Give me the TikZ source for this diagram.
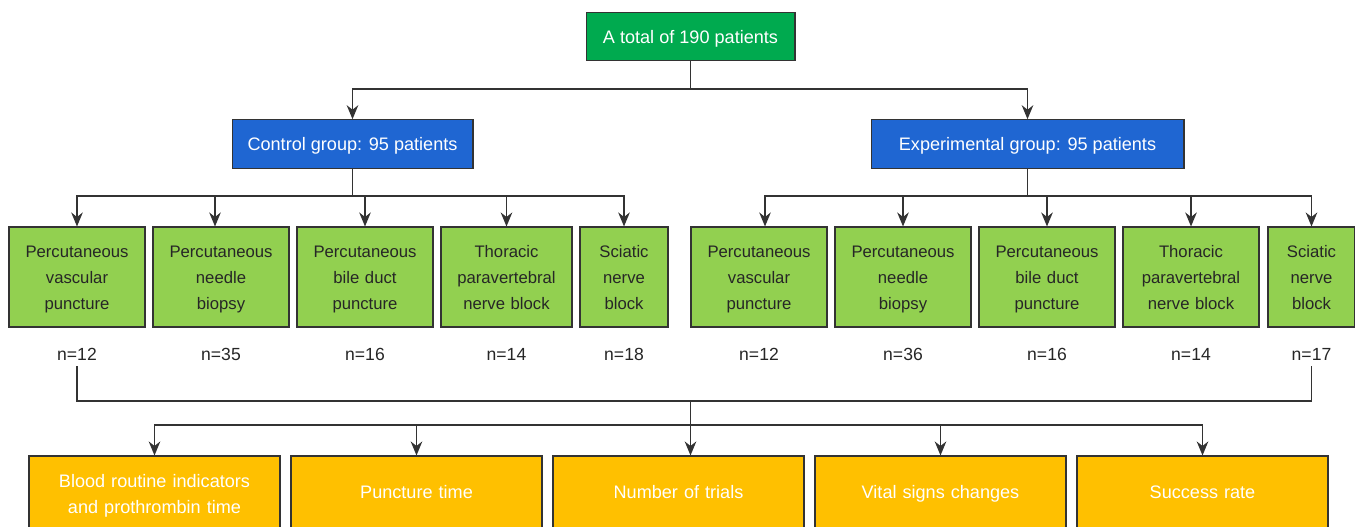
\documentclass[tikz,border=0pt]{standalone}
\usepackage{fontspec}
\setmainfont{Liberation Sans}
\usetikzlibrary{arrows.meta,positioning,calc}
\definecolor{topgreen}{HTML}{00AA4F}
\definecolor{grpblue}{HTML}{1F66D2}
\definecolor{procgreen}{HTML}{92D050}
\definecolor{outorange}{HTML}{FFC000}
\definecolor{edge}{HTML}{333333}

\begin{document}
\begin{tikzpicture}[x=0.02cm,y=-0.02cm,
  box/.style={draw=edge,line width=0.6pt,align=center,inner sep=2pt},
  headbox/.style={box,text=white,font=\fontsize{10.3}{13}\selectfont,minimum height=0.97cm,text height=9.8pt,text depth=2.2pt},
  proc/.style={box,fill=procgreen,text=black!85,font=\fontsize{9.5}{14.8}\selectfont,minimum height=2cm,text width=2.58cm,
    execute at begin node=\strut,execute at end node=\strut},
  outc/.style={box,fill=outorange,text=white,font=\fontsize{10.3}{14.8}\selectfont,minimum height=1.5cm,text width=4.88cm,
    execute at begin node=\strut,execute at end node=\strut},
  lowfirst/.style={execute at begin node=\rule{0pt}{12.2pt}},
  cnt/.style={font=\fontsize{10}{12}\selectfont,text=black!85},
  ln/.style={draw=edge,line width=0.75pt},
  arr/.style={ln,-{Stealth[length=8pt,width=6.6pt,inset=2.6pt]}}]
\useasboundingbox (0,0) rectangle (1355,527);
% top and groups
\node[headbox,fill=topgreen,minimum width=4.18cm] (T) at (690.5,36.5) {A total of 190 patients};
\node[headbox,fill=grpblue,minimum width=4.82cm] (C) at (352.5,144) {Control group: 95 patients};
\node[headbox,fill=grpblue,minimum width=6.26cm] (E) at (1027.5,144) {Experimental group: 95 patients};
\coordinate (tj) at (690.5,89);
\draw[ln] (T) -- (tj);
\draw[arr] (tj) -| (C);
\draw[arr] (tj) -| (E);
% control group procedures
\node[proc,lowfirst] (C1) at (77,277) {Percutaneous\\vascular\\puncture};
\node[proc,lowfirst] (C2) at (221,277) {Percutaneous\\needle\\biopsy};
\node[proc,lowfirst] (C3) at (365,277) {Percutaneous\\bile duct\\puncture};
\node[proc,lowfirst,text width=2.48cm] (C4) at (506.5,277) {Thoracic\\paravertebral\\nerve block};
\node[proc,lowfirst,text width=1.62cm] (C5) at (624,277) {Sciatic\\nerve\\block};
\coordinate (cj) at (352.5,196);
\draw[ln] (C) -- (cj);
\draw[arr] (cj) -| (C1);
\draw[arr] (cj) -| ([xshift=-0.12cm]C2.north);
\draw[arr] (cj) -| (C3);
\draw[arr] (cj) -| (C4);
\draw[arr] (cj) -| (C5);
% experimental group procedures
\node[proc,lowfirst] (E1) at (759,277) {Percutaneous\\vascular\\puncture};
\node[proc,lowfirst] (E2) at (903,277) {Percutaneous\\needle\\biopsy};
\node[proc,lowfirst] (E3) at (1047,277) {Percutaneous\\bile duct\\puncture};
\node[proc,lowfirst] (E4) at (1191,277) {Thoracic\\paravertebral\\nerve block};
\node[proc,lowfirst,text width=1.6cm] (E5) at (1311.5,277) {Sciatic\\nerve\\block};
\coordinate (ej) at (1027.5,196);
\draw[ln] (E) -- (ej);
\draw[arr] (ej) -| ([xshift=0.12cm]E1.north);
\draw[arr] (ej) -| (E2);
\draw[arr] (ej) -| (E3);
\draw[arr] (ej) -| (E4);
\draw[arr] (ej) -| (E5);
% counts
\node[cnt] (nC1) at (77,354) {n=12};
\node[cnt] (nC2) at (221,354) {n=35};
\node[cnt] (nC3) at (365,354) {n=16};
\node[cnt] (nC4) at (506.5,354) {n=14};
\node[cnt] (nC5) at (624,354) {n=18};
\node[cnt] (nE1) at (759,354) {n=12};
\node[cnt] (nE2) at (903,354) {n=36};
\node[cnt] (nE3) at (1047,354) {n=16};
\node[cnt] (nE4) at (1191,354) {n=14};
\node[cnt] (nE5) at (1311.5,354) {n=17};
% outcomes
\node[outc,lowfirst] (O1) at (154.5,493.5) {Blood routine indicators\\and prothrombin time};
\node[outc] (O2) at (416.5,493.5) {Puncture time};
\node[outc] (O3) at (678.5,493.5) {Number of trials};
\node[outc] (O4) at (940.5,493.5) {Vital signs changes};
\node[outc] (O5) at (1202.5,493.5) {Success rate};
\coordinate (nj) at (690.5,401);
\coordinate (oj) at (690.5,425);
\draw[ln] (nC1) |- (nj) -| (nE5);
\draw[ln] (nj) -- (oj);
\draw[arr] (oj) -| (O1);
\draw[arr] (oj) -| (O2);
\draw[arr] (oj) -- (oj |- O3.north);
\draw[arr] (oj) -| (O4);
\draw[arr] (oj) -| (O5);
\end{tikzpicture}
\end{document}
